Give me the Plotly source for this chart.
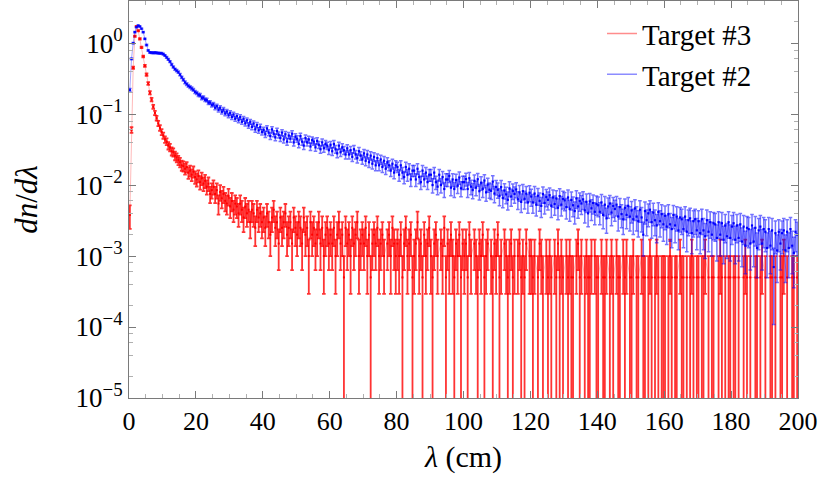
import numpy as np
import plotly.graph_objects as go

# ---------------- data ----------------
bin_width = 0.5  # cm, histogram bin width

# Target #3 (red): dn/dλ for λ = 0 .. 40 cm
red_head = [
    0.0038, 0.06, 0.45, 1.25, 1.72, 1.5, 1.15, 0.87, 0.65, 0.48,
    0.36, 0.27, 0.2, 0.16, 0.127, 0.104, 0.088, 0.074, 0.064, 0.056,
    0.05, 0.044, 0.041, 0.036, 0.034, 0.03, 0.029, 0.026, 0.0245, 0.0225,
    0.021, 0.019, 0.0185, 0.017, 0.018, 0.015, 0.016, 0.014, 0.0155, 0.013,
    0.012, 0.0135, 0.011, 0.0125, 0.0105, 0.0115, 0.0095, 0.0105, 0.0075, 0.0085,
    0.0095, 0.0075, 0.0085, 0.0055, 0.008, 0.0065, 0.0075, 0.006, 0.0055, 0.007,
    0.005, 0.006, 0.0045, 0.0055, 0.005, 0.004, 0.0055, 0.0045, 0.0035, 0.005,
    0.004, 0.0045, 0.003, 0.0045, 0.004, 0.0025, 0.0045, 0.0035, 0.004, 0.003,
]
# Target #3 (red): entries per bin for λ = 40 .. 200 cm (each entry = red_count_weight)
red_tail_counts = [
    7, 5, 8, 6, 4, 7, 9, 5, 6, 3, 7, 5, 6, 8, 4, 5, 6, 3, 7, 5,
    4, 6, 5, 3, 7, 4, 5, 2, 6, 4, 5, 3, 4, 6, 3, 5, 2, 4, 5, 3,
    4, 3, 5, 2, 4, 6, 3, 4, 1, 5, 3, 4, 2, 5, 3, 4, 6, 2, 3, 4,
    3, 5, 2, 4, 1, 3, 4, 3, 5, 2, 3, 4, 2, 0, 3, 4, 2, 5, 3, 2,
    3, 2, 4, 1, 3, 5, 2, 3, 4, 1, 2, 3, 6, 2, 3, 1, 4, 2, 3, 5,
    2, 1, 3, 4, 2, 0, 3, 2, 5, 1, 3, 2, 4, 2, 1, 3, 2, 4, 1, 3,
    2, 3, 1, 4, 2, 0, 3, 2, 1, 3, 2, 4, 1, 2, 3, 0, 2, 1, 3, 2,
    4, 1, 2, 0, 3, 2, 1, 2, 3, 1, 2, 0, 2, 3, 1, 2, 1, 3, 0, 2,
    2, 1, 2, 0, 1, 3, 2, 1, 0, 2, 1, 2, 1, 0, 2, 1, 3, 1, 2, 1,
    0, 2, 1, 2, 1, 1, 0, 2, 3, 1, 2, 0, 1, 2, 1, 1, 2, 0, 2, 1,
    1, 0, 2, 1, 1, 2, 0, 1, 2, 1, 0, 2, 1, 1, 0, 2, 1, 2, 0, 1,
    1, 2, 0, 1, 1, 0, 2, 1, 1, 0, 1, 2, 1, 0, 1, 2, 1, 0, 1, 1,
    1, 0, 1, 2, 1, 0, 1, 1, 0, 2, 1, 1, 0, 1, 0, 1, 2, 1, 0, 1,
    1, 0, 1, 1, 2, 0, 1, 0, 1, 1, 0, 0, 1, 2, 1, 0, 1, 0, 1, 1,
    0, 1, 1, 0, 1, 0, 0, 1, 2, 1, 0, 1, 0, 0, 1, 1, 0, 1, 2, 0,
    1, 0, 0, 1, 1, 0, 1, 0, 0, 1, 1, 2, 0, 1, 0, 0, 1, 1, 0, 1,
]
red_count_weight = 5e-4

# Target #2 (blue): dn/dλ for λ = 0 .. 40 cm
blue_head = [
    0.22, 0.6, 1.0, 1.43, 1.68, 1.77, 1.72, 1.6, 1.43, 1.15,
    0.94, 0.79, 0.74, 0.735, 0.73, 0.735, 0.73, 0.725, 0.72, 0.72,
    0.7, 0.67, 0.63, 0.59, 0.55, 0.5, 0.46, 0.43, 0.41, 0.39,
    0.36, 0.33, 0.305, 0.28, 0.265, 0.25, 0.24, 0.23, 0.22, 0.205,
    0.199, 0.187, 0.185, 0.169, 0.171, 0.159, 0.158, 0.145, 0.146, 0.134,
    0.138, 0.123, 0.13, 0.115, 0.123, 0.108, 0.116, 0.102, 0.109, 0.096,
    0.104, 0.091, 0.099, 0.086, 0.094, 0.082, 0.091, 0.078, 0.086, 0.074,
    0.082, 0.069, 0.078, 0.066, 0.074, 0.061, 0.07, 0.059, 0.066, 0.056,
]
# Target #2 (blue): dn/dλ for λ = 40 .. 200 cm
blue_tail = [
    .060, .052, .063, .055, .049, .061, .053, .047, .058, .051,
    .046, .055, .044, .052, .041, .050, .045, .053, .040, .048,
    .045, .038, .049, .041, .036, .046, .040, .044, .035, .043,
    .041, .034, .042, .037, .032, .040, .033, .038, .036, .031,
    .037, .030, .038, .032, .028, .036, .029, .034, .031, .027,
    .033, .027, .031, .025, .032, .027, .024, .030, .026, .023,
    .028, .022, .027, .021, .026, .020, .025, .019, .024, .019,
    .023, .018, .022, .017, .021, .019, .016, .020, .015, .019,
    .018, .014, .019, .015, .013, .018, .014, .017, .012, .016,
    .016, .012, .017, .013, .011, .016, .012, .015, .011, .014,
    .014, .010, .015, .011, .0095, .014, .010, .013, .0088, .012,
    .012, .0135, .0092, .012, .0088, .0118, .0098, .0128, .0090, .011,
    .011, .0122, .0088, .0125, .0095, .0085, .0115, .0092, .0121, .0082,
    .0108, .0088, .0116, .0079, .0102, .0086, .0083, .0112, .0076, .0094,
    .0086, .0070, .0094, .0066, .0084, .0074, .0062, .0090, .0069, .0083,
    .0075, .0087, .0063, .0079, .0058, .0082, .0064, .0076, .0057, .0078,
    .0069, .0057, .0076, .0053, .0071, .0060, .0051, .0075, .0056, .0068,
    .0062, .0072, .0051, .0067, .0054, .0065, .0048, .0070, .0053, .0064,
    .0061, .0049, .0067, .0046, .0062, .0052, .0043, .0065, .0050, .0060,
    .0055, .0063, .0044, .0058, .0040, .0059, .0047, .0056, .0042, .0054,
    .0052, .0042, .0057, .0038, .0053, .0034, .0050, .0055, .0041, .0051,
    .0046, .0053, .0036, .0049, .0039, .0033, .0048, .0038, .0051, .0036,
    .0044, .0033, .0047, .0036, .0031, .0045, .0035, .0020, .0043, .0032,
    .0040, .0045, .0030, .0041, .0032, .0027, .0042, .0031, .0039, .0028,
    .0037, .0026, .0039, .0028, .0024, .0038, .0027, .0036, .0023, .0035,
    .0033, .0024, .0036, .0022, .0032, .0034, .0021, .0031, .0033, .0023,
    .0031, .0021, .0033, .0023, .0019, .0032, .0022, .0030, .0020, .0029,
    .0028, .0018, .0030, .0020, .0029, .0017, .0027, .0019, .0030, .0018,
    .0026, .0029, .0017, .0027, .0018, .0028, .0016, .0026, .0014, .0025,
    .0024, .0015, .0027, .0016, .0025, .0013, .0023, .0026, .0015, .0024,
    .0022, .0013, .0024, .0014, .0023, .0007, .0021, .0012, .0022, .0015,
    .0021, .0023, .0012, .0022, .0013, .0024, .0014, .0011, .0022, .0020,
]
blue_count_weight = 5e-4

y_tick_vals = [1, 1e-1, 1e-2, 1e-3, 1e-4, 1e-5]
y_tick_text = ["10<sup>0</sup>", "10<sup>−1</sup>", "10<sup>−2</sup>",
               "10<sup>−3</sup>", "10<sup>−4</sup>", "10<sup>−5</sup>"]
x_tick_vals = [0, 20, 40, 60, 80, 100, 120, 140, 160, 180, 200]

# ---------------- build series ----------------
red_vals = np.array(red_head + [c * red_count_weight for c in red_tail_counts], dtype=float)
blue_vals = np.array(blue_head + blue_tail, dtype=float)
lam_red = (np.arange(len(red_vals)) + 0.5) * bin_width
lam_blue = (np.arange(len(blue_vals)) + 0.5) * bin_width


def prep(vals, w):
    y = [v if v > 0 else None for v in vals]
    err = [float(np.sqrt(v * w)) if v > 0 else None for v in vals]
    return y, err


red_y, red_err = prep(red_vals, red_count_weight)
blue_y, blue_err = prep(blue_vals, blue_count_weight)

FONT = "Liberation Serif"
AXIS_GRAY = "#7a7a7a"

fig = go.Figure()

fig.add_trace(go.Scatter(
    x=lam_red, y=red_y, mode="lines+markers", connectgaps=True, showlegend=False,
    line=dict(color="rgba(255,0,0,0.35)", width=0.8),
    marker=dict(color="#ff0000", size=2.0, symbol="square"),
    error_y=dict(type="data", array=red_err, arrayminus=red_err, visible=True,
                 color="rgba(255,0,0,0.8)", thickness=1.8, width=1.8),
))
fig.add_trace(go.Scatter(
    x=lam_blue, y=blue_y, mode="lines+markers", connectgaps=True, showlegend=False,
    line=dict(color="rgba(0,0,255,0.45)", width=0.8),
    marker=dict(color="#0000ff", size=2.2, symbol="square"),
    error_y=dict(type="data", array=blue_err, arrayminus=blue_err, visible=True,
                 color="rgba(0,0,255,0.55)", thickness=1.5, width=1.8),
))
# legend entries (line only, as in the reference)
fig.add_trace(go.Scatter(x=[None], y=[None], mode="lines", name="Target #3",
                         line=dict(color="rgb(255,140,140)", width=1.5)))
fig.add_trace(go.Scatter(x=[None], y=[None], mode="lines", name="Target #2",
                         line=dict(color="rgb(140,140,255)", width=1.5)))

minor_y = [m * 10.0 ** e for e in range(-5, 1) for m in (2, 4, 6, 8)]

fig.update_layout(
    width=829, height=486,
    margin=dict(l=129, r=31, t=1, b=88, autoexpand=False),
    paper_bgcolor="white", plot_bgcolor="white",
    font=dict(family=FONT, size=26, color="black"),
    showlegend=True,
    legend=dict(x=(602 - 129) / 669, y=0.982, xanchor="left", yanchor="top",
                bgcolor="rgba(255,255,255,0)", borderwidth=0,
                font=dict(family=FONT, size=29), tracegroupgap=0),
    xaxis=dict(
        range=[0, 200], tickmode="array", tickvals=x_tick_vals, automargin=False,
        ticks="inside", ticklen=7, tickcolor=AXIS_GRAY, tickwidth=1,
        showline=True, linecolor=AXIS_GRAY, linewidth=1, mirror="ticks",
        showgrid=False, zeroline=False,
        minor=dict(dtick=5, tick0=0, ticks="inside", ticklen=4, tickcolor="#b0b0b0", showgrid=False),
        tickfont=dict(family=FONT, size=26),
        title=dict(text="<i>λ</i> (cm)", font=dict(family=FONT, size=30), standoff=10),
    ),
    yaxis=dict(
        type="log", range=[-5, 0.594], tickmode="array", automargin=False,
        tickvals=y_tick_vals, ticktext=y_tick_text,
        ticks="inside", ticklen=7, tickcolor=AXIS_GRAY, tickwidth=1,
        showline=True, linecolor=AXIS_GRAY, linewidth=1, mirror="ticks",
        showgrid=False, zeroline=False,
        minor=dict(tickmode="array", tickvals=minor_y, ticks="inside", ticklen=4,
                   tickcolor="#b0b0b0", showgrid=False),
        tickfont=dict(family=FONT, size=27),
        title=dict(text="<i>dn</i>/<i>dλ</i>", font=dict(family=FONT, size=31), standoff=28),
    ),
)

fig.write_html("out.html", config={"displayModeBar": False},
               post_script="document.body.style.margin='0px';")
